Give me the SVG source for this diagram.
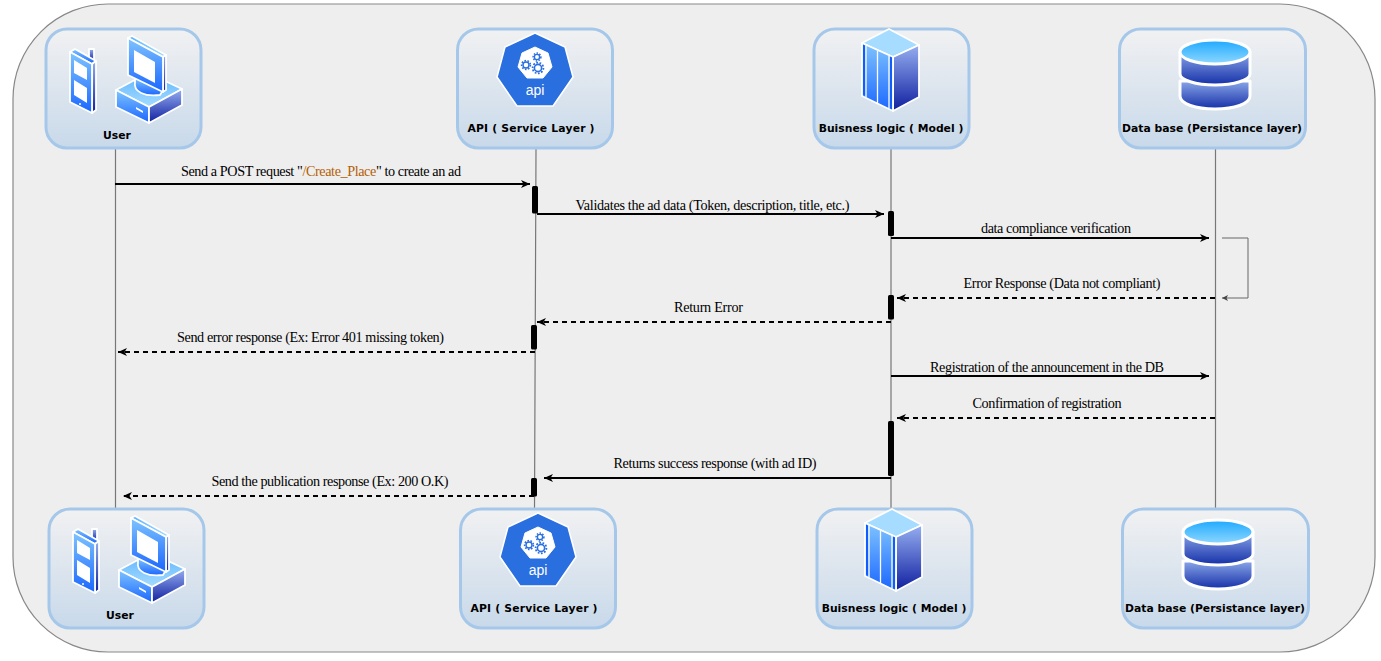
<svg xmlns="http://www.w3.org/2000/svg" xmlns:xlink="http://www.w3.org/1999/xlink" width="1381" height="661" viewBox="0 0 1381 661">
<style>
.box{fill:url(#boxGrad);stroke:#a5c8ea;stroke-width:3}
.nl{font-family:"DejaVu Sans",sans-serif;font-weight:700;font-size:10.8px;fill:#000;text-anchor:middle}
.ml{font-family:"Liberation Serif",serif;font-size:14.2px;fill:#000;text-anchor:middle}
.life{stroke:#777;stroke-width:1.2;fill:none}
.msg{stroke:#000;stroke-width:2;fill:none;marker-end:url(#arrow)}
.dash{stroke-dasharray:5 4}
.bar{fill:#000}
.w{stroke:#fff;stroke-width:1.8;stroke-linejoin:round}
</style>
<defs>
<linearGradient id="boxGrad" x1="0" y1="0" x2="0" y2="1"><stop offset="0" stop-color="#f1f1f2"/><stop offset="1" stop-color="#c8d9ea"/></linearGradient>
<linearGradient id="lite" x1="0" y1="0" x2="0" y2="1"><stop offset="0" stop-color="#7fc4ff"/><stop offset="1" stop-color="#1a66ff"/></linearGradient>
<linearGradient id="top" x1="0" y1="0" x2="0" y2="1"><stop offset="0" stop-color="#5cb4ff"/><stop offset="1" stop-color="#a5dcff"/></linearGradient>
<linearGradient id="dark" x1="0" y1="0" x2="0" y2="1"><stop offset="0" stop-color="#96aef0"/><stop offset="1" stop-color="#0f1fa0"/></linearGradient>
<linearGradient id="cyl" x1="0" y1="0" x2="0" y2="1"><stop offset="0" stop-color="#8aa6e8"/><stop offset="1" stop-color="#1530a8"/></linearGradient>
<linearGradient id="cap" x1="0" y1="0" x2="0" y2="1"><stop offset="0" stop-color="#1ea8ff"/><stop offset="1" stop-color="#8fd8ff"/></linearGradient>
<marker id="arrow" markerUnits="userSpaceOnUse" markerWidth="10" markerHeight="10" refX="9" refY="4.5" orient="auto"><path d="M0,0.5L9,4.500L0,8.500L2.500,4.500Z" fill="#000"/></marker>
<marker id="thin" markerUnits="userSpaceOnUse" markerWidth="8" markerHeight="8" refX="6" refY="3" orient="auto"><path d="M0,0L6,3L0,6L1.500,3Z" fill="#444"/></marker>
<g id="icon-user">
<path class="w" fill="url(#dark)" d="M89,49h5v12h-5z"/>
<path class="w" fill="url(#lite)" d="M70,52L75,49L96,61L92,64Z"/>
<path class="w" fill="url(#dark)" d="M92,64L96,61V110L92,113Z"/>
<path class="w" fill="url(#lite)" d="M70,52L92,64V113L70,102Z"/>
<path fill="#fff" d="M74,60L87,68V80L74,73ZM74,80L87,88V103L74,95Z"/>
<circle cx="80" cy="104" r="1" fill="#fff"/>
<path class="w" fill="url(#top)" d="M116,90L148,73L182,89L149,107Z"/>
<path class="w" fill="url(#lite)" d="M116,90L149,107V123L116,107Z"/>
<path class="w" fill="url(#dark)" d="M149,107L182,89V105L149,123Z"/>
<path fill="#fff" d="M136,107l7,4v2l-7,-4z"/>
<path class="w" fill="url(#lite)" d="M135,82C133,92 145,97 160,95L163,90L135,78Z"/>
<path class="w" fill="url(#top)" d="M128,38L132,36L166,55L163,57Z"/>
<path class="w" fill="url(#dark)" d="M163,57L166,55V90L163,92Z"/>
<path class="w" fill="url(#lite)" d="M128,38L163,57V92L128,75Z"/>
<path fill="#fff" d="M134,50L155,62V83L134,72Z"/>
</g>
<g id="icon-api">
<path fill="#2a6fe0" stroke="#fff" stroke-width="1.500" stroke-linejoin="round" d="M535,33L565,47L573,77L553,106L517,106L497,77L505,47Z"/>
<path fill="#fff" stroke="#fff" stroke-linejoin="round" d="M535,47L548,53L552,67L543,78L527,78L518,67L522,53Z"/>
<g fill="none" stroke="#2a6fe0">
<circle cx="526" cy="65" r="3" stroke-width="1.400"/><circle cx="526" cy="65" r="4.400" stroke-width="1.600" stroke-dasharray="1.600 1.500"/>
<circle cx="537" cy="57" r="2.600" stroke-width="1.300"/><circle cx="537" cy="57" r="3.900" stroke-width="1.500" stroke-dasharray="1.500 1.400"/>
<circle cx="538" cy="68" r="3.600" stroke-width="1.600"/><circle cx="538" cy="68" r="5.400" stroke-width="1.800" stroke-dasharray="1.700 1.600"/>
</g>
</g>
<g id="icon-server">
<path class="w" d="M889,29L919,45L893,57L862,43Z" style="fill:#a5dcff"/>
<path class="w" fill="url(#dark)" d="M893,57L919,45V97L893,111Z"/>
<path class="w" fill="url(#lite)" d="M862,43L893,57V111L862,96Z"/>
<path fill="#0f5cff" d="M863,44.500l2,1V95.500l-2,-1ZM890,56.500l2,1V109l-2,-1Z"/>
<path stroke="#fff" stroke-width="1.300" d="M866,45.500V97.500M877.500,51V103M889,56V108.500"/>
</g>
<g id="icon-db">
<path class="w" style="stroke-width:3" fill="url(#cyl)" d="M1180,81V96C1180,104 1196,109 1215,109C1234,109 1250,104 1250,96V81Z"/>
<path class="w" style="stroke-width:3" fill="url(#cyl)" d="M1180,52V74C1180,80 1196,85 1215,85C1234,85 1250,80 1250,74V52Z"/>
<ellipse cx="1215" cy="52" rx="35" ry="12" fill="url(#cap)" stroke="#fff" stroke-width="3"/>
</g>
</defs>
<rect id="frame" x="13" y="4" width="1362" height="648" rx="95" ry="95" fill="#eeeeee" stroke="#888" stroke-width="1.200"/>
<g id="connectors">
<path class="life" d="M115.500,149V508M536,149L534.500,508M891,149V508M1215.500,149V508"/>
<path class="msg" d="M115,184H530"/>
<path class="msg" d="M537,214H884"/>
<path class="msg" d="M891,238H1209"/>
<path d="M1222,238H1248V298H1222" fill="none" stroke="#666" stroke-width="1" marker-end="url(#thin)"/>
<path class="msg dash" d="M1215,298H897"/>
<path class="msg dash" d="M891,322H537"/>
<path class="msg dash" d="M535,352H118"/>
<path class="msg" d="M891,376H1209"/>
<path class="msg dash" d="M1215,418H897"/>
<path class="msg" d="M891,478H544"/>
<path class="msg dash" d="M534,496H123"/>
<rect class="bar" x="532" y="186" width="6" height="27.500" rx="1.500"/>
<rect class="bar" x="888" y="211" width="6" height="25" rx="1.500"/>
<rect class="bar" x="888" y="295" width="6" height="24.500" rx="1.500"/>
<rect class="bar" x="531" y="325" width="6" height="24.500" rx="1.500"/>
<rect class="bar" x="888" y="421" width="6" height="55" rx="1.500"/>
<rect class="bar" x="531" y="478" width="6" height="18.500" rx="1.500"/>
<text class="ml" x="321" y="176" textLength="280">Send a POST request "<tspan fill="#b45f06">/Create_Place</tspan>" to create an ad</text>
<text class="ml" x="712.500" y="210" textLength="274">Validates the ad data (Token, description, title, etc.)</text>
<text class="ml" x="1056" y="233" textLength="150">data compliance verification</text>
<text class="ml" x="1062" y="288" textLength="197">Error Response (Data not compliant)</text>
<text class="ml" x="708.500" y="312" textLength="69">Return Error</text>
<text class="ml" x="310.500" y="342" textLength="267">Send error response (Ex: Error 401 missing token)</text>
<text class="ml" x="1047" y="372" textLength="234">Registration of the announcement in the DB</text>
<text class="ml" x="1047" y="408" textLength="149">Confirmation of registration</text>
<text class="ml" x="715" y="468" textLength="203">Returns success response (with ad ID)</text>
<text class="ml" x="330" y="486" textLength="237">Send the publication response (Ex: 200 O.K)</text>
</g>
<g id="node-user-top"><rect class="box" x="46" y="29" width="155" height="119" rx="21"/><use href="#icon-user"/><text class="nl" x="117" y="139">User</text></g>
<g id="node-api-top"><rect class="box" x="457.500" y="29" width="155" height="119" rx="21"/><use href="#icon-api"/><text x="535" y="95" font-family="Liberation Sans,sans-serif" font-size="14" fill="#fff" text-anchor="middle">api</text><text class="nl" x="531" y="132" textLength="127">API ( Service Layer )</text></g>
<g id="node-model-top"><rect class="box" x="814" y="29" width="155" height="119" rx="21"/><use href="#icon-server"/><text class="nl" x="891" y="132">Buisness logic ( Model )</text></g>
<g id="node-db-top"><rect class="box" x="1119.500" y="29" width="186" height="119" rx="21"/><use href="#icon-db"/><text class="nl" x="1212" y="132">Data base (Persistance layer)</text></g>
<g id="node-user-bottom" transform="translate(3,480)"><rect class="box" x="46" y="29" width="155" height="119" rx="21"/><use href="#icon-user"/><text class="nl" x="117" y="139">User</text></g>
<g id="node-api-bottom" transform="translate(3,480)"><rect class="box" x="457.500" y="29" width="155" height="119" rx="21"/><use href="#icon-api"/><text x="535" y="95" font-family="Liberation Sans,sans-serif" font-size="14" fill="#fff" text-anchor="middle">api</text><text class="nl" x="531" y="132" textLength="127">API ( Service Layer )</text></g>
<g id="node-model-bottom" transform="translate(3,480)"><rect class="box" x="814" y="29" width="155" height="119" rx="21"/><use href="#icon-server"/><text class="nl" x="891" y="132">Buisness logic ( Model )</text></g>
<g id="node-db-bottom" transform="translate(3,480)"><rect class="box" x="1119.500" y="29" width="186" height="119" rx="21"/><use href="#icon-db"/><text class="nl" x="1212" y="132">Data base (Persistance layer)</text></g>
</svg>
